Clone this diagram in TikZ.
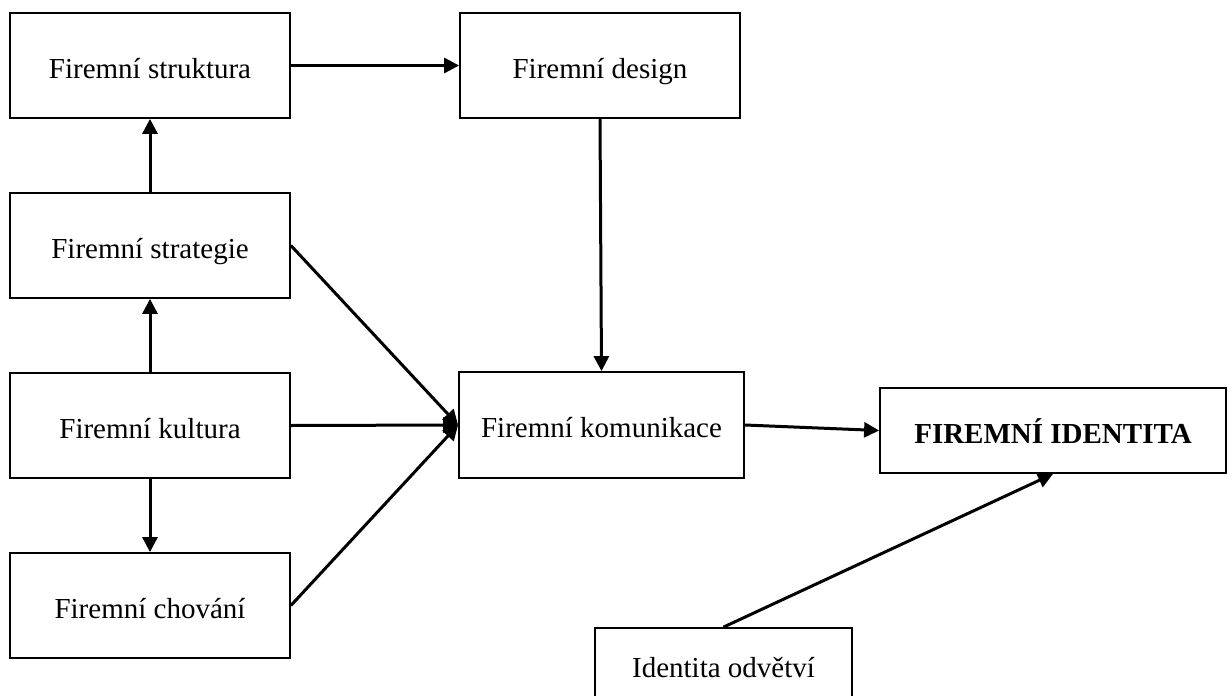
\documentclass[tikz,border=0pt]{standalone}
\usepackage{fontspec}
\setmainfont{Liberation Serif}
\usetikzlibrary{arrows.meta,backgrounds}
\begin{document}
\begin{tikzpicture}[x=1pt,y=-1pt,
  box/.style={draw=black,line width=1.8pt,fill=white,rectangle,inner sep=0pt,
    text height=28pt,text depth=3pt,
    minimum width=280pt,minimum height=105pt,font=\fontsize{29}{34}\selectfont},
  conn/.style={line width=3pt,-{Triangle[length=15pt,width=15pt]}}]
\useasboundingbox (0,0) rectangle (1232,696);
\clip (0,0) rectangle (1232,696);
\node[box] (struk) at (150,65.5) {Firemní struktura};
\node[box] (design) at (600,65.5) {Firemní design};
\node[box] (strat) at (150,245.5) {Firemní strategie};
\node[box] (kult) at (150,425.5) {Firemní kultura};
\node[box] (chov) at (150,605.5) {Firemní chování};
\node[box,minimum width=285pt,minimum height=106pt] (komu) at (601.5,425) {Firemní komunikace};
\node[box,minimum width=346pt,minimum height=85pt,font=\fontsize{29}{34}\selectfont\bfseries] (ident) at (1053,430.5) {FIREMNÍ IDENTITA};
\node[box,minimum width=257pt,minimum height=74pt] (odv) at (723.5,665) {Identita odvětví};
\begin{scope}[on background layer]
\draw[conn] (struk.east) -- (design.west);
\draw[conn] (strat.north) -- (struk.south);
\draw[conn] (kult.north) -- (strat.south);
\draw[conn] (kult.south) -- (chov.north);
\draw[conn] (design.south) -- (komu.north);
\draw[conn] (strat.east) -- (komu.west);
\draw[conn] (kult.east) -- (komu.west);
\draw[conn] (chov.east) -- (komu.west);
\draw[conn] (komu.east) -- (ident.west);
\draw[conn] (odv.north) -- (ident.south);
\end{scope}
\end{tikzpicture}
\end{document}
